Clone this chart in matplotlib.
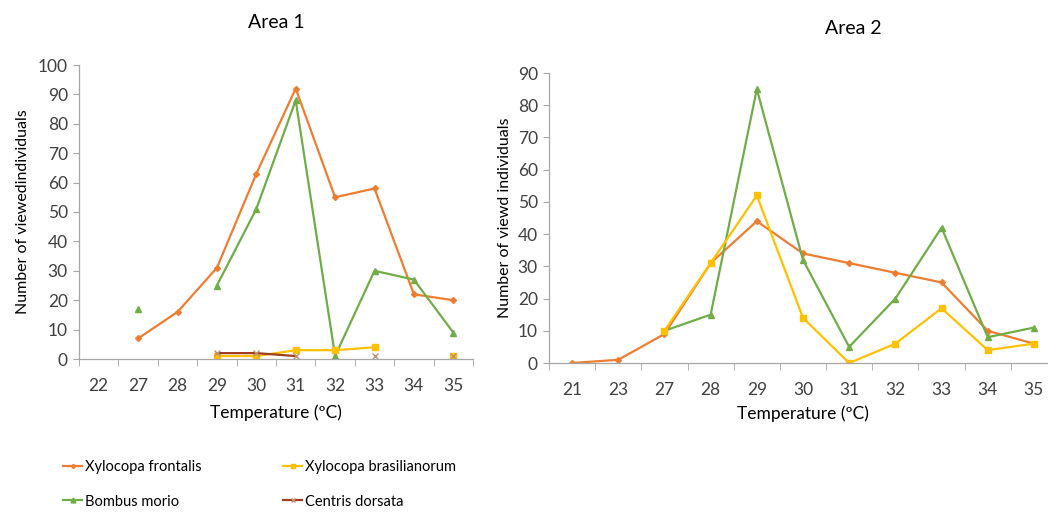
import numpy as np
import matplotlib
matplotlib.use("Agg")
import matplotlib.pyplot as plt

plt.rcParams["font.family"] = ["Lato", "DejaVu Sans"]

# Area 1 data
temps_1 = ["22", "27", "28", "29", "30", "31", "32", "33", "34", "35"]
frontalis_1 = [np.nan, 7, 16, 31, 63, 92, 55, 58, 22, 20]
brasil_1 = [np.nan, np.nan, np.nan, 1, 1, 3, 3, 4, np.nan, 1]
bombus_1 = [np.nan, 17, np.nan, 25, 51, 88, 1, 30, 27, 9]
centris_1 = [np.nan, np.nan, np.nan, 2, 2, 1, np.nan, 1, np.nan, 1]

# Area 2 data
temps_2 = ["21", "23", "27", "28", "29", "30", "31", "32", "33", "34", "35"]
frontalis_2 = [0, 1, 9, 31, 44, 34, 31, 28, 25, 10, 6]
brasil_2 = [np.nan, np.nan, 10, 31, 52, 14, 0, 6, 17, 4, 6]
bombus_2 = [np.nan, np.nan, 10, 15, 85, 32, 5, 20, 42, 8, 11]

C_FRONT = "#ED7D31"
C_BRAS = "#FFC000"
C_BOMB = "#70AD47"
C_CENT = "#9E3F1E"
C_CENT_MK = "#C0907A"
AX_COL = "#A6A6A6"
TXT = "#404040"

W, H = 1048, 512
fig = plt.figure(figsize=(W / 100, H / 100), dpi=100)


def px(x0, y0, x1, y1):
    return [x0 / W, 1 - y1 / H, (x1 - x0) / W, (y1 - y0) / H]


def style(ax, cats, ymax, ylabel, xlabel):
    n = len(cats)
    ax.set_xlim(-0.5, n - 0.5)
    ax.set_ylim(0, ymax)
    ax.set_yticks(np.arange(0, ymax + 1, 10))
    ax.set_xticks(np.arange(n))
    ax.set_xticklabels(cats)
    ax.set_xticks(np.arange(n + 1) - 0.5, minor=True)
    ax.tick_params(axis="x", which="major", length=0, pad=14, labelsize=12.5, labelcolor=TXT)
    ax.tick_params(axis="x", which="minor", length=5, color=AX_COL, direction="out")
    ax.tick_params(axis="y", length=4, color=AX_COL, labelsize=12.5, labelcolor=TXT, pad=4)
    for s in ["top", "right"]:
        ax.spines[s].set_visible(False)
    for s in ["left", "bottom"]:
        ax.spines[s].set_color(AX_COL)
        ax.spines[s].set_linewidth(0.9)
    ax.set_ylabel(ylabel, fontsize=11.5, color="#000000")
    ax.set_xlabel(xlabel, fontsize=12.5, color="#000000")
    ax.patch.set_visible(False)


# ---- Area 1 ----
ax1 = fig.add_axes(px(79, 65, 473, 359))
x1 = np.arange(len(temps_1))
ax1.plot(x1, frontalis_1, color=C_FRONT, lw=1.6, marker="D", ms=3, label="Xylocopa frontalis")
ax1.plot(x1, bombus_1, color=C_BOMB, lw=1.6, marker="^", ms=5, label="Bombus morio")
ax1.plot(x1, brasil_1, color=C_BRAS, lw=1.6, marker="s", ms=5, label="Xylocopa brasilianorum")
ax1.plot(x1, centris_1, color=C_CENT, lw=1.6, marker="x", ms=5, mec=C_CENT_MK, mew=1.0,
         label="Centris dorsata")
style(ax1, temps_1, 100, "Number of viewedindividuals", "Temperature (ºC)")
ax1.xaxis.labelpad = 7
ax1.yaxis.labelpad = 6
ax1.set_title("Area 1", fontsize=14, pad=27)

# ---- Area 2 ----
ax2 = fig.add_axes(px(549, 73, 1057, 363))
x2 = np.arange(len(temps_2))
ax2.plot(x2, frontalis_2, color=C_FRONT, lw=1.6, marker="D", ms=3)
ax2.plot(x2, bombus_2, color=C_BOMB, lw=1.6, marker="^", ms=5)
ax2.plot(x2, brasil_2, color=C_BRAS, lw=1.6, marker="s", ms=5)
style(ax2, temps_2, 90, "Number of viewd individuals", "Temperature (ºC)")
ax2.xaxis.labelpad = 5
ax2.yaxis.labelpad = 4
ax2.set_title("Area 2", fontsize=14, pad=28, x=0.6)

# ---- Legend ----
handles, labels = ax1.get_legend_handles_labels()
fig.legend(handles, labels,
           loc="upper left", bbox_to_anchor=(50 / W, 1 - 447 / H), ncol=2,
           frameon=False, fontsize=10.5, handlelength=1.3, handletextpad=0.2,
           columnspacing=5.6, labelspacing=1.4, markerscale=0.7)

fig.savefig("out.png", dpi=100, facecolor="white")
